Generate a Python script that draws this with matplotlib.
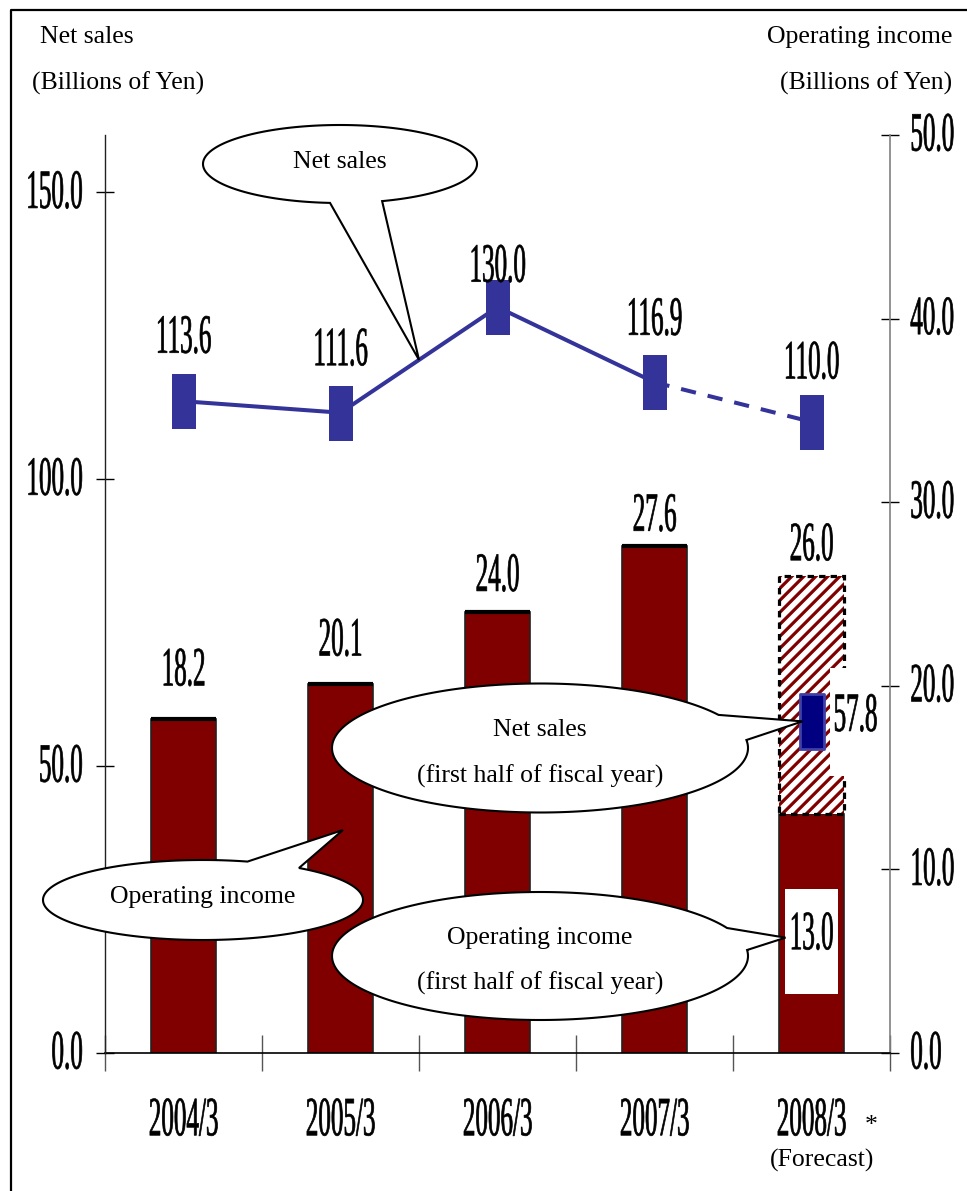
import numpy as np
import matplotlib
matplotlib.use("Agg")
import matplotlib.pyplot as plt
import matplotlib.patheffects as pe
from matplotlib.transforms import Affine2D
from matplotlib.patches import Rectangle, Polygon
from matplotlib.collections import LineCollection
from matplotlib.lines import Line2D
from matplotlib.path import Path

# ---- data -------------------------------------------------------------
years = ["2004/3", "2005/3", "2006/3", "2007/3", "2008/3"]
net_sales = [113.6, 111.6, 130.0, 116.9, 110.0]
operating_income = [18.2, 20.1, 24.0, 27.6, 26.0]
net_sales_first_half = 57.8
operating_income_first_half = 13.0
net_sales_ticks = [0, 50, 100, 150]
income_ticks = [0, 10, 20, 30, 40, 50]

# ---- styling ----------------------------------------------------------
SERIF = "Liberation Serif"
NUM_SIZE = 21
TXT_SIZE = 18.5
BAR_RED = "#800000"
LINE_BLUE = "#333399"

W, H, DPI = 967, 1191, 100
fig = plt.figure(figsize=(W / DPI, H / DPI), dpi=DPI)
fig.patch.set_facecolor("white")

# pixel coordinates, origin at the top-left corner
PX = Affine2D().scale(1 / W, -1 / H).translate(0, 1) + fig.transFigure


class Squeeze(pe.AbstractPathEffect):
    """Draw text glyphs narrowed and heightened (condensed numerals)."""

    def __init__(self, sx=0.86, sy=1.9, anchor="center", stroke=0.5):
        super().__init__()
        self.sx, self.sy, self.anchor, self.stroke = sx, sy, anchor, stroke

    def draw_path(self, renderer, gc, tpath, affine, rgbFace=None):
        bb = tpath.get_extents(affine)
        if self.anchor == "left":
            cx = bb.x0
        elif self.anchor == "right":
            cx = bb.x1
        else:
            cx = 0.5 * (bb.x0 + bb.x1)
        cy = 0.5 * (bb.y0 + bb.y1)
        t = affine + Affine2D().translate(-cx, -cy).scale(self.sx, self.sy).translate(cx, cy)
        gc2 = renderer.new_gc()
        gc2.copy_properties(gc)
        gc2.set_linewidth(self.stroke)
        gc2.set_foreground(rgbFace if rgbFace is not None else "black")
        renderer.draw_path(gc2, tpath, t, rgbFace)
        gc2.restore()


def num_font(anchor="center"):
    return dict(fontsize=NUM_SIZE, family=SERIF, color="black",
                path_effects=[Squeeze(anchor=anchor)])


# ---- axes -------------------------------------------------------------
x0, x1, ytop, ybot = 105, 890, 135, 1053
ax = fig.add_axes([x0 / W, 1 - ybot / H, (x1 - x0) / W, (ybot - ytop) / H])
ax_ns = ax.twinx()
ax.set_zorder(1)
ax_ns.set_zorder(2)
ax.patch.set_visible(False)
ax_ns.patch.set_visible(False)

# operating income on the right, net sales on the left
ax.yaxis.tick_right()
ax.yaxis.set_label_position("right")
ax_ns.yaxis.tick_left()
ax_ns.yaxis.set_label_position("left")

x = np.arange(len(years))
ax.set_xlim(-0.5, len(years) - 0.5)
ax.set_ylim(0, 50)
ax_ns.set_ylim(0, 160)

for s in ["top", "left"]:
    ax.spines[s].set_visible(False)
ax.spines["right"].set_color("#808080")
ax.spines["right"].set_linewidth(1.2)
ax.spines["bottom"].set_color("black")
ax.spines["bottom"].set_linewidth(1.2)
for s in ["top", "right", "bottom"]:
    ax_ns.spines[s].set_visible(False)
ax_ns.spines["left"].set_color("#222222")
ax_ns.spines["left"].set_linewidth(1.0)

# y ticks
ax_ns.set_yticks(net_sales_ticks)
ax_ns.set_yticklabels([f"{v:.1f}" for v in net_sales_ticks])
ax_ns.tick_params(axis="y", direction="inout", length=13, width=1, pad=9.5, colors="black")
for t in ax_ns.get_yticklabels():
    t.set(**num_font("right"))
    t.set_va("center")

ax.set_yticks(income_ticks)
ax.set_yticklabels([f"{v:.1f}" for v in income_ticks])
ax.tick_params(axis="y", direction="inout", length=13, width=1, pad=8, colors="black")
for t in ax.get_yticklabels():
    t.set(**num_font("left"))
    t.set_va("center")

# x ticks: labels at categories, marks at category boundaries
ax.set_xticks(x)
ax.set_xticklabels(years)
ax.set_xticks(np.arange(-0.5, len(years), 1.0), minor=True)
ax.tick_params(axis="x", which="major", length=0, pad=48)
ax.tick_params(axis="x", which="minor", direction="inout", length=26, width=1, color="#555555")
for t in ax.get_xticklabels():
    t.set(**num_font("center"))
    t.set_va("center")

# ---- operating income bars -------------------------------------------
bw = 0.42
solid = operating_income[:-1] + [operating_income_first_half]
ax.bar(x, solid, width=bw, color=BAR_RED, edgecolor="#222222", linewidth=1.2, zorder=2)
ax.hlines(operating_income[:-1], x[:-1] - bw / 2, x[:-1] + bw / 2, colors="black", lw=3, zorder=3)

# forecast remainder (second half), hatched with a dashed outline
fx = x[-1]
rest = operating_income[-1] - operating_income_first_half
hatched = Rectangle((fx - bw / 2, operating_income_first_half), bw, rest,
                    facecolor="white", edgecolor="none", zorder=2)
ax.add_patch(hatched)


def to_px(axis, xv, yv):
    dx, dy = axis.transData.transform((xv, yv))
    return dx, H - dy


L, B = to_px(ax, fx - bw / 2, operating_income_first_half)
R, T = to_px(ax, fx + bw / 2, operating_income[-1])
span = B - T
segs = []
for s0 in np.arange(L - span - 20, R + 20, 12.0):
    segs.append([(s0, B + 10), (s0 + span + 30, B - span - 20)])
stripes = LineCollection(segs, colors=BAR_RED, linewidths=2.3, transform=PX, zorder=3)
ax.add_collection(stripes, autolim=False)
stripes.set_clip_path(hatched)
ax.add_patch(Rectangle((fx - bw / 2, operating_income_first_half), bw, rest, fill=False,
                       edgecolor="black", lw=2.3, linestyle=(0, (2, 1.6)), zorder=4))

# operating income value labels
bar_label_dy = [49, 44, 37, 31, 31]
for i, v in enumerate(operating_income):
    ax.annotate(f"{v:.1f}", (x[i], v), xytext=(0, bar_label_dy[i]), textcoords="offset pixels",
                ha="center", va="center", zorder=5, **num_font())

# ---- net sales line ---------------------------------------------------
marker = Path([(-12, -27.5), (12, -27.5), (12, 27.5), (-12, 27.5), (-12, -27.5)],
              [Path.MOVETO, Path.LINETO, Path.LINETO, Path.LINETO, Path.CLOSEPOLY])
ax_ns.plot(x[:-1], net_sales[:-1], color=LINE_BLUE, lw=2.9, zorder=3,
           solid_capstyle="butt")
ax_ns.plot(x[-2:], net_sales[-2:], color=LINE_BLUE, lw=2.9, ls=(0, (3.8, 3)), zorder=3)
ax_ns.plot(x, net_sales, ls="none", marker=marker, ms=39.6, mfc=LINE_BLUE,
           mec=LINE_BLUE, mew=0, zorder=4)

ns_label_dy = [64, 63, 41, 63, 59]
for i, v in enumerate(net_sales):
    ax_ns.annotate(f"{v:.1f}", (x[i], v), xytext=(0, ns_label_dy[i]), textcoords="offset pixels",
                   ha="center", va="center", zorder=5, **num_font())

# first-half net sales marker with its label on a white patch
mx, my = to_px(ax_ns, fx, net_sales_first_half)
ax_ns.add_patch(Rectangle((mx + 18, my - 53), 49, 108, transform=PX,
                          facecolor="white", edgecolor="none", zorder=1))
ax_ns.plot([fx], [net_sales_first_half], ls="none", marker=marker, ms=39.6,
           mfc="#000080", mec="#3f3fa8", mew=2, zorder=4)
ax_ns.annotate(f"{net_sales_first_half:.1f}", (fx, net_sales_first_half), xytext=(44, 6),
               textcoords="offset pixels", ha="center", va="center", zorder=5, **num_font())

# first-half operating income label inside the bar
lx, ly = to_px(ax, fx, operating_income_first_half / 2)
ax_ns.add_patch(Rectangle((lx - 26.5, ly - 45), 53, 105, transform=PX,
                          facecolor="white", edgecolor="none", zorder=1))
ax_ns.text(fx, operating_income_first_half / 2, f"{operating_income_first_half:.1f}",
           transform=ax.transData, ha="center", va="center", zorder=5, **num_font())


# ---- speech-bubble callouts -------------------------------------------
def callout(cx, cy, a, b, p1, p2, tip, z=10):
    t1 = np.arctan2((p1[1] - cy) / b, (p1[0] - cx) / a) % (2 * np.pi)
    t2 = np.arctan2((p2[1] - cy) / b, (p2[0] - cx) / a) % (2 * np.pi)
    d = (t2 - t1) % (2 * np.pi)
    if d < np.pi:
        ts = np.linspace(t2, t2 + 2 * np.pi - d, 300)
    else:
        ts = np.linspace(t1, t1 + d, 300)
    pts = np.column_stack([cx + a * np.cos(ts), cy + b * np.sin(ts)])
    verts = np.vstack([pts, [tip]])
    fig.add_artist(Polygon(verts, closed=True, facecolor="white", edgecolor="black",
                           lw=1.5, transform=PX, zorder=z))


def ctext(xp, yp, s, ha="center", va="baseline", z=11, **kw):
    fig.text(xp, yp, s, transform=PX, ha=ha, va=va, fontsize=TXT_SIZE, family=SERIF,
             color="black", zorder=z, **kw)


tip_ns = to_px(ax_ns, (x[1] + x[2]) / 2, (net_sales[1] + net_sales[2]) / 2)
callout(340, 164, 137, 39, (330, 203), (382, 201), tip_ns)
ctext(340, 168, "Net sales")

callout(203, 900, 160, 40, (247, 862), (302, 867), (343, 830))
ctext(203, 903, "Operating income")

callout(540, 748, 208, 64.5, (718, 715), (747, 740), (mx - 9, my), z=12)
ctext(540, 736, "Net sales", z=13)
ctext(540, 783, "(first half of fiscal year)", z=13)

callout(540, 956, 208, 64, (727, 928), (747, 950), (lx - 26, ly + 4), z=14)
ctext(540, 944, "Operating income", z=15)
ctext(540, 990, "(first half of fiscal year)", z=15)

# ---- headers and notes ------------------------------------------------
ctext(40, 43, "Net sales", ha="left")
ctext(32, 90, "(Billions of Yen)", ha="left")
ctext(952, 43, "Operating income", ha="right")
ctext(952, 90, "(Billions of Yen)", ha="right")
ctext(871, 1132, "*")
ctext(822, 1167, "(Forecast)")

# outer frame
fig.add_artist(Line2D([11, 11, 980], [1200, 10, 10], color="black", lw=1.6,
                      transform=PX, zorder=20))

fig.savefig("out.png", dpi=DPI)
